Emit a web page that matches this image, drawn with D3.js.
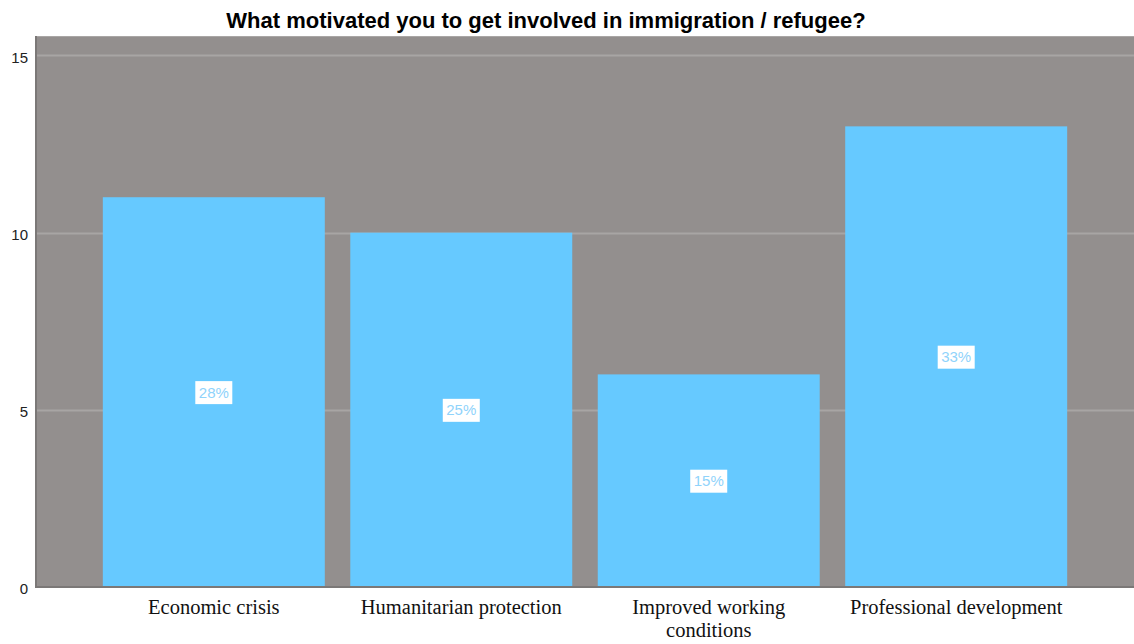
<!DOCTYPE html>
<html>
<head>
<meta charset="utf-8">
<script src="https://cdn.jsdelivr.net/npm/d3@7"></script>
<style>
  html, body { margin: 0; padding: 0; background: #ffffff; }
  svg { display: block; }
</style>
</head>
<body>
<svg id="chart" width="1134" height="644"></svg>
<script>
// Motivation categories and respondent counts
const categories = ["Economic crisis", "Humanitarian protection", "Improved working conditions", "Professional development"];
const counts = [11, 10, 6, 13];
const percentLabels = ["28%", "25%", "15%", "33%"];
const yTicks = [0, 5, 10, 15];
const titleText = "What motivated you to get involved in immigration / refugee?";

const svg = d3.select("#chart");
const plot = { left: 36, right: 1134, top: 36, bottom: 587 };

const y = d3.scaleLinear().domain([0, 15.55]).range([plot.bottom, plot.top]);
const x = d3.scaleBand()
  .domain(categories)
  .range([plot.left, plot.right])
  .paddingInner(0.103)
  .paddingOuter(0.27);

// plot background
svg.append("rect")
  .attr("x", plot.left).attr("y", plot.top)
  .attr("width", plot.right - plot.left).attr("height", plot.bottom - plot.top)
  .attr("fill", "#938f8e");
svg.append("line")
  .attr("x1", plot.left).attr("x2", plot.right)
  .attr("y1", plot.top + 0.5).attr("y2", plot.top + 0.5)
  .attr("stroke", "#a9a6a5").attr("stroke-width", 1);

// horizontal gridlines
svg.append("g").selectAll("line")
  .data(yTicks.filter(d => d > 0))
  .join("line")
  .attr("x1", plot.left).attr("x2", plot.right)
  .attr("y1", d => Math.round(y(d)) + 0.5).attr("y2", d => Math.round(y(d)) + 0.5)
  .attr("stroke", "#a8a5a4").attr("stroke-width", 2);

// bars
svg.append("g").selectAll("rect")
  .data(counts)
  .join("rect")
  .attr("x", (d, i) => x(categories[i]))
  .attr("y", d => y(d))
  .attr("width", x.bandwidth())
  .attr("height", d => y(0) - y(d))
  .attr("fill", "#66c9ff");

// percentage labels in white boxes
const lab = svg.append("g").selectAll("g")
  .data(counts)
  .join("g")
  .attr("transform", (d, i) => `translate(${x(categories[i]) + x.bandwidth() / 2},${y(d / 2)})`);
lab.append("rect")
  .attr("x", -18.5).attr("y", -11).attr("width", 37).attr("height", 23)
  .attr("fill", "#ffffff");
lab.append("text")
  .attr("text-anchor", "middle").attr("dy", "0.36em")
  .attr("font-family", "Arial, 'Liberation Sans', sans-serif")
  .attr("font-size", 15)
  .attr("fill", "#8fd3fb")
  .text((d, i) => percentLabels[i]);

// left axis line
svg.append("line")
  .attr("x1", plot.left).attr("x2", plot.left)
  .attr("y1", plot.top).attr("y2", plot.bottom)
  .attr("stroke", "#7b7877").attr("stroke-width", 2);
// bottom axis line
svg.append("line")
  .attr("x1", plot.left - 1).attr("x2", plot.right)
  .attr("y1", plot.bottom).attr("y2", plot.bottom)
  .attr("stroke", "#7b7877").attr("stroke-width", 2);

// y tick labels
const yAxis = d3.axisLeft(y).tickValues(yTicks).tickSize(0).tickPadding(8);
const yg = svg.append("g").attr("transform", `translate(${plot.left},0)`).call(yAxis);
yg.select(".domain").remove();
yg.selectAll("text")
  .attr("font-family", "Arial, 'Liberation Sans', sans-serif")
  .attr("font-size", 15)
  .attr("dy", "0.45em")
  .attr("fill", "#222");

// category labels
const xAxis = d3.axisBottom(x).tickSize(0).tickPadding(0);
const xg = svg.append("g").attr("transform", `translate(0,${plot.bottom})`).call(xAxis);
xg.select(".domain").remove();
xg.selectAll("text").remove();
xg.selectAll(".tick").each(function(d) {
  const words = d === "Improved working conditions" ? ["Improved working", "conditions"] : [d];
  const t = d3.select(this).append("text")
    .attr("text-anchor", "middle")
    .attr("font-family", "'Liberation Serif', 'Times New Roman', serif")
    .attr("font-size", 20.5)
    .attr("fill", "#111");
  words.forEach((w, i) => {
    t.append("tspan").attr("x", 0).attr("y", 27 + i * 23).text(w);
  });
});

// title
svg.append("text")
  .attr("x", 546).attr("y", 28)
  .attr("text-anchor", "middle")
  .attr("font-family", "Arial, 'Liberation Sans', sans-serif")
  .attr("font-weight", "bold")
  .attr("font-size", 22)
  .attr("fill", "#000")
  .text(titleText);
</script>
</body>
</html>
